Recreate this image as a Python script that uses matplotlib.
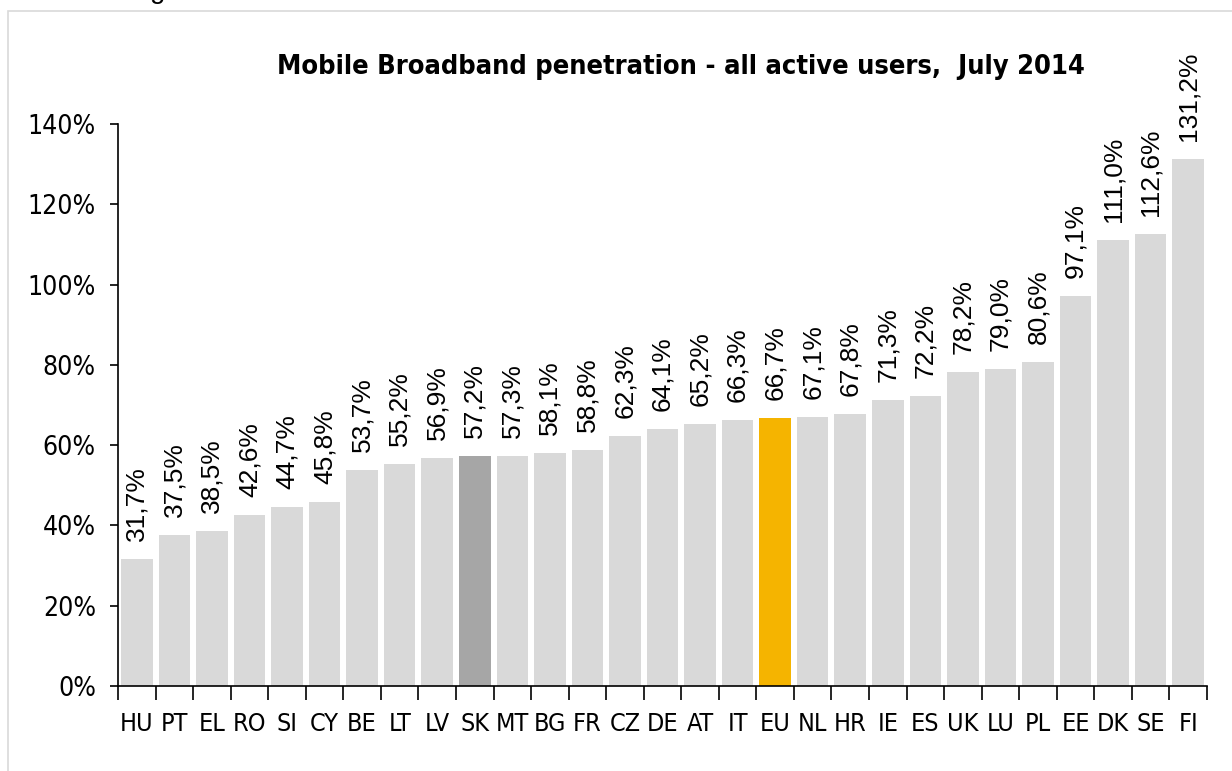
import matplotlib
matplotlib.use("Agg")
import matplotlib.pyplot as plt
from matplotlib.patches import Rectangle

countries = ["HU", "PT", "EL", "RO", "SI", "CY", "BE", "LT", "LV", "SK", "MT", "BG", "FR", "CZ",
             "DE", "AT", "IT", "EU", "NL", "HR", "IE", "ES", "UK", "LU", "PL", "EE", "DK", "SE", "FI"]
penetration = [31.7, 37.5, 38.5, 42.6, 44.7, 45.8, 53.7, 55.2, 56.9, 57.2, 57.3, 58.1, 58.8, 62.3,
               64.1, 65.2, 66.3, 66.7, 67.1, 67.8, 71.3, 72.2, 78.2, 79.0, 80.6, 97.1, 111.0, 112.6, 131.2]
yticks = [0, 20, 40, 60, 80, 100, 120, 140]

highlight = {"SK": "#a6a6a6", "EU": "#f5b400"}
colors = [highlight.get(c, "#d9d9d9") for c in countries]

regular = ["Liberation Sans", "DejaVu Sans"]
cond = dict(family="DejaVu Sans", stretch="condensed")

fig = plt.figure(figsize=(12.32, 7.71), dpi=100)
ax = fig.add_axes([0.0958, 0.1102, 0.8839, 0.7290])

# light frame around the chart area
fig.patches.append(Rectangle((8 / 1232, -0.1), 1.2, 1 - 11 / 771 + 0.1, transform=fig.transFigure,
                             facecolor="none", edgecolor="#d9d9d9", linewidth=1.2))
fig.text(150 / 1232, 1 + 2 / 771, "g", fontsize=20, family=regular, va="baseline", color="black")

x = list(range(len(countries)))
ax.bar(x, penetration, width=0.84, color=colors, edgecolor="none")

for xi, v in zip(x, penetration):
    ax.annotate(f"{v:.1f}%".replace(".", ","), (xi, v), xytext=(0, 13), textcoords="offset points",
                rotation=90, ha="center", va="bottom", fontsize=19, family=regular)

ax.set_xlim(-0.5, len(countries) - 0.5)
ax.set_ylim(0, 140)
ax.set_yticks(yticks)
ax.set_yticklabels([f"{t}%" for t in yticks], fontsize=19, **cond)
ax.set_xticks(x)
ax.set_xticklabels(countries, fontsize=18, **cond)
ax.set_xticks([i - 0.5 for i in range(len(countries) + 1)], minor=True)
ax.tick_params(axis="x", which="major", length=0, pad=19)
ax.tick_params(axis="x", which="minor", length=10, width=1.2, direction="out")
ax.tick_params(axis="y", length=6, width=1.2, direction="out", pad=10)

for side in ["top", "right"]:
    ax.spines[side].set_visible(False)
for side in ["left", "bottom"]:
    ax.spines[side].set_linewidth(1.2)

fig.text(0.553, 1 - 74 / 771, "Mobile Broadband penetration - all active users,  July 2014",
         ha="center", va="baseline", fontsize=19.5, fontweight="bold", **cond)

fig.savefig("out.png", dpi=100)
